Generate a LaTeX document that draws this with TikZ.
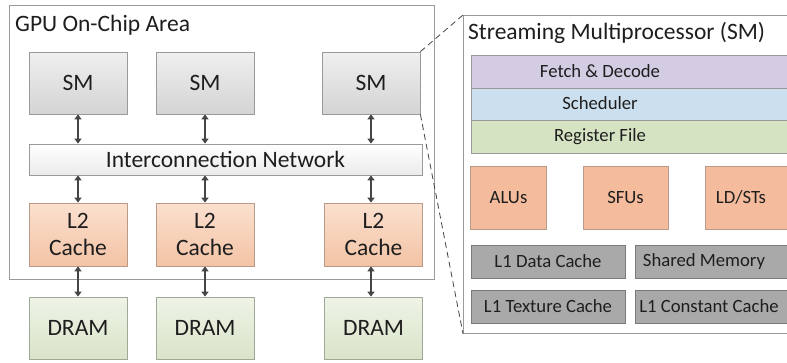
\documentclass[tikz,border=0pt]{standalone}
\usepackage{fontspec}
\setmainfont{Carlito}
\usetikzlibrary{arrows.meta}
\definecolor{txt}{HTML}{1E1E1E}
\definecolor{smtop}{HTML}{EFEFEF}
\definecolor{smbot}{HTML}{D4D4D4}
\definecolor{smdraw}{HTML}{9A9A9A}
\definecolor{l2top}{HTML}{FBE0CF}
\definecolor{l2bot}{HTML}{F3C3A5}
\definecolor{l2draw}{HTML}{B89A88}
\definecolor{drtop}{HTML}{EEF3E6}
\definecolor{drbot}{HTML}{D9E4C9}
\definecolor{drdraw}{HTML}{A0A898}
\definecolor{fetchc}{HTML}{D3CCE3}
\definecolor{schedc}{HTML}{CCDFEE}
\definecolor{regc}{HTML}{D5E3C3}
\definecolor{aluc}{HTML}{F4BC9C}
\definecolor{l1c}{HTML}{A9A9A9}
\definecolor{l1draw}{HTML}{7A7A7A}
\definecolor{arr}{HTML}{454545}
\begin{document}
\begin{tikzpicture}[x=1pt,y=-1pt,
  big/.style={font=\fontsize{23.5}{26}\selectfont},
  small/.style={font=\fontsize{18.7}{21}\selectfont},
  box/.style={inner sep=0pt, anchor=center, text=txt, big, line width=0.8pt},
  smbox/.style={box, draw=smdraw, top color=smtop, bottom color=smbot, minimum width=98pt, minimum height=62pt},
  l2box/.style={box, draw=l2draw, top color=l2top, bottom color=l2bot, minimum width=98pt, minimum height=63pt, align=center},
  drbox/.style={box, draw=drdraw, top color=drtop, bottom color=drbot, minimum width=98pt, minimum height=62pt},
  band/.style={box, draw=smdraw, minimum width=325pt, minimum height=32.5pt, small},
  unit/.style={box, draw=l2draw, fill=aluc, minimum width=76pt, minimum height=63pt, small},
  lone/.style={box, draw=l1draw, fill=l1c, minimum height=33pt, small},
  lbl/.style={text=txt, inner sep=0pt},
  link/.style={draw=arr, line width=1.3pt, {Triangle[width=7pt,length=5pt]}-{Triangle[width=7pt,length=5pt]}},
  zoomline/.style={draw=arr, line width=0.8pt, dash pattern=on 6pt off 4pt}
]
\useasboundingbox (0,0) rectangle (787,362);
\clip (0,0) rectangle (787,362);
\fill[white] (0,0) rectangle (787,362);
% GPU area
\node[draw=smdraw, line width=0.8pt, minimum width=425pt, minimum height=274pt, inner sep=0pt, anchor=north west] (gpu) at (9,5) {};
\node[lbl, big, anchor=west] (gputitle) at (15,25) {GPU On-Chip Area};
% SMs
\node[smbox] (sm1) at (78,83) {SM};
\node[smbox] (sm2) at (205,83) {SM};
\node[smbox] (sm3) at (371,83) {SM};
% Interconnect
\node[box, draw=smdraw, top color=white, bottom color=smtop!85!smbot, minimum width=393pt, minimum height=31pt] (net) at (225.5,159.5) {Interconnection Network};
% L2
\node[l2box] (l1) at (78,234.5) {L2\\[1pt]Cache};
\node[l2box] (l2) at (205,234.5) {L2\\[1pt]Cache};
\node[l2box] (l3) at (373.5,234.5) {L2\\[1pt]Cache};
% DRAM
\node[drbox] (d1) at (78,328) {DRAM};
\node[drbox] (d2) at (205,328) {DRAM};
\node[drbox] (d3) at (373.5,328) {DRAM};
% arrows
\draw[link] (sm1.south) -- (sm1.south |- net.north);
\draw[link] (sm2.south) -- (sm2.south |- net.north);
\draw[link] (sm3.south) -- (sm3.south |- net.north);
\draw[link] (net.south -| l1.north) -- (l1.north);
\draw[link] (net.south -| l2.north) -- (l2.north);
\draw[link] (net.south -| sm3.south) -- (sm3.south |- l3.north);
\draw[link] (l1.south) -- (d1.north);
\draw[link] (l2.south) -- (d2.north);
\draw[link] (sm3.south |- l3.south) -- (sm3.south |- d3.north);
% SM panel
\node[draw=smdraw, line width=0.8pt, minimum width=340pt, minimum height=318pt, inner sep=0pt, anchor=north west] (panel) at (463,15) {};
\node[lbl, big, anchor=west] (ptitle) at (468,33) {Streaming Multiprocessor (SM)};
\node[band, fill=fetchc, anchor=north west] (fetch) at (471,55) {};
\node[band, fill=schedc, anchor=north west] (sched) at (471,87.5) {};
\node[band, fill=regc, anchor=north west] (reg) at (471,120) {};
\node[lbl, small] (fetcht) at (600,71) {Fetch \& Decode};
\node[lbl, small] (schedt) at (600,103.5) {Scheduler};
\node[lbl, small] (regt) at (600,136.5) {Register File};
\node[unit] (alu) at (508.5,197.5) {ALUs};
\node[unit, minimum width=85pt] (sfu) at (625.5,197.5) {SFUs};
\node[unit, anchor=west, minimum width=90pt] (ldst) at (705,197.5) {};
\node[lbl, small] (ldstt) at (741,197.5) {LD/STs};
\node[lone, minimum width=154pt] (l1d) at (548,261.5) {L1 Data Cache};
\node[lone, minimum width=154pt] (l1t) at (548,306.5) {L1 Texture Cache};
\node[lone, anchor=west, minimum width=160pt] (shm) at (635,261.5) {};
\node[lone, anchor=west, minimum width=160pt] (l1k) at (635,306.5) {};
\node[lbl, small] (shmt) at (704,261.5) {Shared Memory};
\node[lbl, small] (l1kt) at (709,306.5) {L1 Constant Cache};
% zoom lines
\draw[zoomline] (sm3.north east) -- (panel.north west);
\draw[zoomline] (sm3.south east) -- (panel.south west);
\end{tikzpicture}
\end{document}
